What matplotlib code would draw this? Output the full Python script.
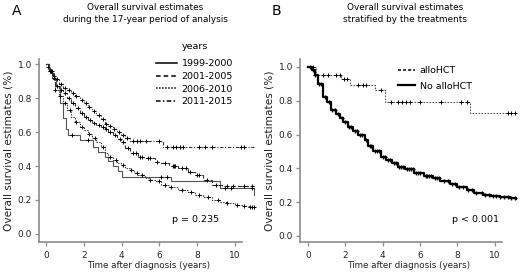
import numpy as np
import matplotlib
matplotlib.use("Agg")
import matplotlib.pyplot as plt
from matplotlib.lines import Line2D

plt.rcParams['font.family'] = ['DejaVu Sans']

# ---------------- Panel A data ----------------
y9900_t = [0, 0.15, 0.28, 0.4, 0.55, 0.72, 0.9, 1.05, 1.16, 1.78, 2.49, 2.75, 3.1, 3.3, 3.55, 3.8, 4.0, 6.6, 9.2, 11.0]
y9900_s = [1.0, 0.97, 0.945, 0.91, 0.87, 0.77, 0.68, 0.62, 0.58, 0.553, 0.51, 0.48, 0.455, 0.43, 0.40, 0.37, 0.337, 0.31, 0.27, 0.23]
y9900_c = [1.4, 2.2, 6.1, 6.4, 9.5, 9.8, 10.9]

y0105_t = [0, 0.15, 0.3, 0.46, 0.7, 0.9, 1.1, 1.34, 1.55, 1.78, 2.0, 2.22, 2.45, 2.66, 2.9, 3.1, 3.3,
           3.55, 3.75, 3.98, 4.2, 4.43, 4.87, 5.24, 5.75, 6.1, 6.5, 7.0, 7.5, 7.9, 8.3, 8.8, 9.3, 11.0]
y0105_s = [1.0, 0.96, 0.92, 0.87, 0.85, 0.83, 0.80, 0.77, 0.74, 0.71, 0.69, 0.67, 0.655, 0.64, 0.63, 0.62, 0.60,
           0.58, 0.56, 0.54, 0.505, 0.475, 0.455, 0.445, 0.425, 0.415, 0.40, 0.386, 0.365, 0.347, 0.318, 0.29, 0.285, 0.285]
y0105_c = [0.2, 0.4, 0.6, 0.8, 1.0, 1.2, 1.45, 1.7, 1.9, 2.1, 2.35, 2.55, 2.8, 3.0, 3.2, 3.4, 3.65, 3.9, 4.1,
           4.35, 4.6, 4.75, 5.0, 5.1, 5.4, 5.5, 5.9, 6.3, 6.7, 6.8, 6.85, 7.2, 7.4, 7.6, 8.0, 8.1, 8.5, 9.0,
           9.6, 9.9, 10.5, 10.9]

y0610_t = [0, 0.15, 0.3, 0.46, 0.7, 0.9, 1.1, 1.34, 1.55, 1.78, 2.0, 2.22, 2.45, 2.66, 2.9, 3.1, 3.3, 3.55,
           3.75, 3.98, 4.2, 4.43, 4.65, 4.87, 5.24, 5.5, 5.75, 6.1, 6.5, 7.0, 7.5, 7.9, 8.3, 8.8, 9.2, 9.6,
           10.0, 10.5, 10.8, 11.0]
y0610_s = [1.0, 0.96, 0.91, 0.85, 0.81, 0.77, 0.73, 0.69, 0.66, 0.63, 0.61, 0.59, 0.565, 0.54, 0.51, 0.475,
           0.455, 0.435, 0.42, 0.405, 0.39, 0.376, 0.36, 0.347, 0.327, 0.318, 0.31, 0.29, 0.275, 0.26, 0.245,
           0.23, 0.215, 0.20, 0.19, 0.18, 0.172, 0.165, 0.16, 0.16]
y0610_c = [0.25, 0.5, 0.75, 1.0, 1.25, 1.6, 1.9, 2.3, 2.6, 3.0, 3.4, 3.7, 4.1, 4.5, 4.8, 5.1, 5.5, 6.0, 6.3,
           6.6, 7.2, 7.7, 8.1, 8.6, 9.1, 9.6, 10.1, 10.5, 10.8, 10.9, 11.0]

y1115_t = [0, 0.1, 0.2, 0.35, 0.5, 0.7, 0.9, 1.1, 1.34, 1.55, 1.78, 2.0, 2.22, 2.45, 2.66, 2.9, 3.1, 3.3,
           3.55, 3.75, 3.98, 4.2, 4.43, 6.2, 11.0]
y1115_s = [1.0, 0.98, 0.96, 0.93, 0.91, 0.885, 0.86, 0.845, 0.83, 0.81, 0.79, 0.77, 0.75, 0.725, 0.70, 0.675,
           0.65, 0.635, 0.62, 0.60, 0.58, 0.565, 0.55, 0.513, 0.513]
y1115_c = [0.1, 0.2, 0.3, 0.45, 0.6, 0.8, 1.0, 1.2, 1.45, 1.6, 1.9, 2.1, 2.3, 2.55, 2.8, 3.0, 3.2, 3.4, 3.6,
           3.85, 4.1, 4.3, 4.6, 4.8, 5.0, 5.3, 6.0, 6.4, 6.7, 6.9, 7.1, 7.25, 8.1, 8.4, 8.8, 10.35, 10.5]

labels_A = ['1999-2000', '2001-2005', '2006-2010', '2011-2015']

# ---------------- Panel B data ----------------
allo_t = [0, 0.45, 1.78, 2.23, 3.6, 4.1, 8.66, 11.1]
allo_s = [1.0, 0.95, 0.927, 0.893, 0.864, 0.795, 0.727, 0.727]
allo_c = [0.27, 0.8, 1.07, 1.5, 1.7, 1.95, 2.1, 2.67, 2.94, 3.1, 3.9, 4.45, 4.8, 5.05, 5.25, 5.45, 6.0,
          7.15, 8.2, 8.5, 10.7, 10.9, 11.07]

noallo_t = [0, 0.2, 0.36, 0.55, 0.8, 1.0, 1.25, 1.5, 1.7, 1.9, 2.14, 2.4, 2.7, 3.03, 3.2, 3.5, 3.9, 4.2,
            4.5, 4.8, 5.2, 5.7, 6.2, 6.7, 7.1, 7.6, 8.0, 8.5, 8.9, 9.4, 9.8, 10.3, 10.8, 11.2]
noallo_s = [1.0, 0.98, 0.95, 0.9, 0.824, 0.79, 0.745, 0.72, 0.70, 0.675, 0.647, 0.62, 0.595, 0.568, 0.53,
            0.50, 0.47, 0.45, 0.43, 0.41, 0.395, 0.37, 0.355, 0.34, 0.325, 0.31, 0.29, 0.27, 0.255, 0.243,
            0.235, 0.233, 0.225, 0.217]
noallo_c = [0.1, 0.25, 0.4, 0.6, 0.7, 0.9, 1.1, 1.3, 1.45, 1.6, 1.8, 2.0, 2.2, 2.3, 2.5, 2.6, 2.8, 2.9,
            3.1, 3.3, 3.4, 3.6, 3.7, 3.8, 4.0, 4.1, 4.3, 4.4, 4.6, 4.7, 4.9, 5.0, 5.1, 5.3, 5.4, 5.5, 5.6,
            5.8, 5.9, 6.0, 6.3, 6.4, 6.5, 6.6, 6.8, 6.9, 7.0, 7.3, 7.5, 7.7, 7.9, 8.1, 8.3, 8.6, 8.8, 9.0,
            9.3, 9.5, 9.7, 9.9, 10.1, 10.3, 10.5, 10.7, 10.9, 11.1]
labels_B = ['alloHCT', 'No alloHCT']

SPINE = '#8c8c8c'
W, H = 520.0, 273.0


def surv_at(t_list, s_list, times):
    t_arr = np.asarray(t_list)
    s_arr = np.asarray(s_list)
    idx = np.searchsorted(t_arr, np.asarray(times), side='right') - 1
    idx = np.clip(idx, 0, len(s_arr) - 1)
    return s_arr[idx]


def km(ax, t, s, c, ls, color, lw, ms=3.2, mew=0.7):
    ax.step(t, s, where='post', linestyle=ls, color=color, lw=lw)
    ax.plot(c, surv_at(t, s, c), linestyle='none', marker='+', color='black',
            markersize=ms, mew=mew)


def style(ax, xlim, ylim, xend):
    ax.set_xlim(*xlim)
    ax.set_ylim(*ylim)
    for sp in ['top', 'right']:
        ax.spines[sp].set_visible(False)
    for sp in ['left', 'bottom']:
        ax.spines[sp].set_color(SPINE)
        ax.spines[sp].set_linewidth(1.2)
    ax.spines['bottom'].set_bounds(xlim[0], xend)
    ax.set_xticks([0, 2, 4, 6, 8, 10])
    ax.set_yticks([0.0, 0.2, 0.4, 0.6, 0.8, 1.0])
    ax.set_yticklabels(['0.0', '0.2', '0.4', '0.6', '0.8', '1.0'])
    ax.tick_params(axis='both', colors=SPINE, labelcolor='#222222', labelsize=6.5,
                   length=3, width=0.9, pad=2)
    ax.tick_params(axis='x', pad=3.5)
    ax.set_xlabel('Time after diagnosis (years)', fontsize=6.3, color='#222222', labelpad=1.2)
    ax.set_ylabel('Overall survival estimates (%)', fontsize=7.6, color='#222222', labelpad=3)


fig = plt.figure(figsize=(5.2, 2.73), dpi=100)

# Panel A
axA = fig.add_axes([39 / W, (H - 241.6) / H, (257.5 - 39) / W, (241.6 - 59) / H])
km(axA, y9900_t, y9900_s, y9900_c, '-', '#555555', 0.8)
km(axA, y0105_t, y0105_s, y0105_c, (0, (4, 2)), '#333333', 0.8)
km(axA, y0610_t, y0610_s, y0610_c, (0, (1.2, 1.2)), '#333333', 0.8)
km(axA, y1115_t, y1115_s, y1115_c, (0, (3, 1.5, 1, 1.5)), '#333333', 0.8)
style(axA, (-0.37, 11.2), (-0.045, 1.03), 10.37)
handlesA = [Line2D([], [], color='black', lw=1.1, ls='-'),
            Line2D([], [], color='black', lw=1.1, ls=(0, (3, 2))),
            Line2D([], [], color='black', lw=1.1, ls=(0, (1, 1))),
            Line2D([], [], color='black', lw=1.1, ls=(0, (3, 1.5, 1, 1.5)))]
legA = fig.legend(handlesA, labels_A, title='years', loc='upper left',
                  bbox_to_anchor=(156 / W, 1 - 42 / H),
                  frameon=False, fontsize=6.8, title_fontsize=6.8, handlelength=2.2,
                  handletextpad=0.5, labelspacing=0.38, borderaxespad=0, borderpad=0)
legA._legend_box.align = 'center'
legA._legend_box.sep = 6

fig.text(12 / W, 1 - 11 / H, 'A', fontsize=10, ha='left', va='center')
fig.text(145 / W, 1 - 7 / H, 'Overall survival estimates', fontsize=6.4, ha='center', va='center')
fig.text(145 / W, 1 - 19 / H, 'during the 17-year period of analysis', fontsize=6.4,
         ha='center', va='center')

# Panel B
axB = fig.add_axes([300 / W, (H - 241.7) / H, (517 - 300) / W, (241.7 - 59) / H])
km(axB, allo_t, allo_s, allo_c, (0, (1.5, 1.2)), '#555555', 0.8)
km(axB, noallo_t, noallo_s, noallo_c, '-', 'black', 1.6, ms=3.2, mew=0.9)
style(axB, (-0.43, 11.2), (-0.034, 1.047), 10.4)
handlesB = [Line2D([], [], color='black', lw=1.1, ls=(0, (2, 1.3))),
            Line2D([], [], color='black', lw=1.6, ls='-')]
fig.legend(handlesB, labels_B, loc='upper left', bbox_to_anchor=(398 / W, 1 - 66 / H), frameon=False,
           fontsize=6.8, handlelength=1.8, handletextpad=0.5, labelspacing=0.72, borderaxespad=0,
           borderpad=0)

fig.text(272 / W, 1 - 11 / H, 'B', fontsize=10, ha='left', va='center')
fig.text(405 / W, 1 - 7 / H, 'Overall survival estimates', fontsize=6.4, ha='center', va='center')
fig.text(405 / W, 1 - 19 / H, 'stratified by the treatments', fontsize=6.4, ha='center', va='center')

fig.text(196 / W, 1 - 220 / H, 'p = 0.235', fontsize=6.8, ha='center', va='center')
fig.text(475 / W, 1 - 220 / H, 'p < 0.001', fontsize=6.8, ha='center', va='center')

fig.savefig('out.png', dpi=100)
